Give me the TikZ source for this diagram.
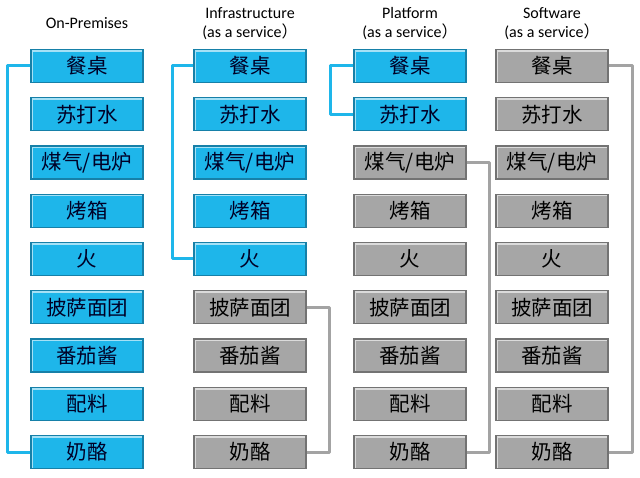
\documentclass[tikz,border=0pt]{standalone}
\usepackage{fontspec}
\setmainfont{Carlito}
\newfontfamily\cjk{Noto Sans CJK SC}
\usepackage{xcolor}
\usetikzlibrary{calc,positioning}
\definecolor{boxblue}{HTML}{1EB6EA}
\definecolor{edgeblue}{HTML}{1680A8}
\definecolor{boxgray}{HTML}{A6A6A6}
\definecolor{edgegray}{HTML}{737373}
\definecolor{linkgray}{HTML}{A3A3A3}
\tikzset{%
	item/.style     = {rectangle, minimum width=112pt, minimum height=33pt, inner sep=0pt, line width=1.2pt, text centered, font=\cjk\fontsize{20.5}{22}\selectfont,
	                   path picture={\draw[white, opacity=0.6, line width=1.5pt] ([shift={(1.5pt,-1.5pt)}]path picture bounding box.south west) -- ([shift={(1.5pt,-1.5pt)}]path picture bounding box.north west) -- ([shift={(-1.5pt,-1.5pt)}]path picture bounding box.north east);}},
	managed/.style  = {item, fill=boxblue, draw=edgeblue, text=black!85!blue},
	provided/.style = {item, fill=boxgray, draw=edgegray, text=black},
	header/.style   = {align=center, font=\fontsize{16}{19}\selectfont},
	bluelink/.style = {draw=boxblue, line width=3pt, line join=round},
	graylink/.style = {draw=linkgray, line width=3pt, line join=round},
}

\begin{document}
\begin{tikzpicture}[x=1pt,y=-1pt]
	\useasboundingbox (0,0) rectangle (640,478);
	% headers
	\node[header] (h1) at (87,23) {On-Premises};
	\node[header] (h2) at (250,24) {Infrastructure\\(as a service\cjk{）}};
	\node[header] (h3) at (410,24) {Platform\\(as a service\cjk{）}};
	\node[header] (h4) at (552,24) {Software\\(as a service\cjk{）}};
	% boxes: column / x centre / number of rows done by yourself
	\foreach \c/\x/\n in {1/87/9, 2/250/5, 3/410/2, 4/552/0}
	  \foreach \t [count=\r] in {餐桌,苏打水,煤气/电炉,烤箱,火,披萨面团,番茄酱,配料,奶酪}{
	    \ifnum\r>\n
	      \node[provided] (c\c r\r) at (\x,{66+(\r-1)*48.25}) {\t};
	    \else
	      \node[managed] (c\c r\r) at (\x,{66+(\r-1)*48.25}) {\t};
	    \fi
	  }
	% brackets
	\draw[bluelink] (c1r1.west) -- ++(-23,0) |- (c1r9.west);
	\draw[bluelink] (c2r1.west) -- ++(-21,0) |- (c2r5.west);
	\draw[graylink] (c2r6.east) -- ++(23,0) |- (c2r9.east);
	\draw[bluelink] (c3r1.west) -- ++(-23,0) |- (c3r2.west);
	\draw[graylink] (c3r3.east) -- ++(23,0) |- (c3r9.east);
	\draw[graylink] (c4r1.east) -- ++(24,0) |- (c4r9.east);
\end{tikzpicture}
\end{document}
